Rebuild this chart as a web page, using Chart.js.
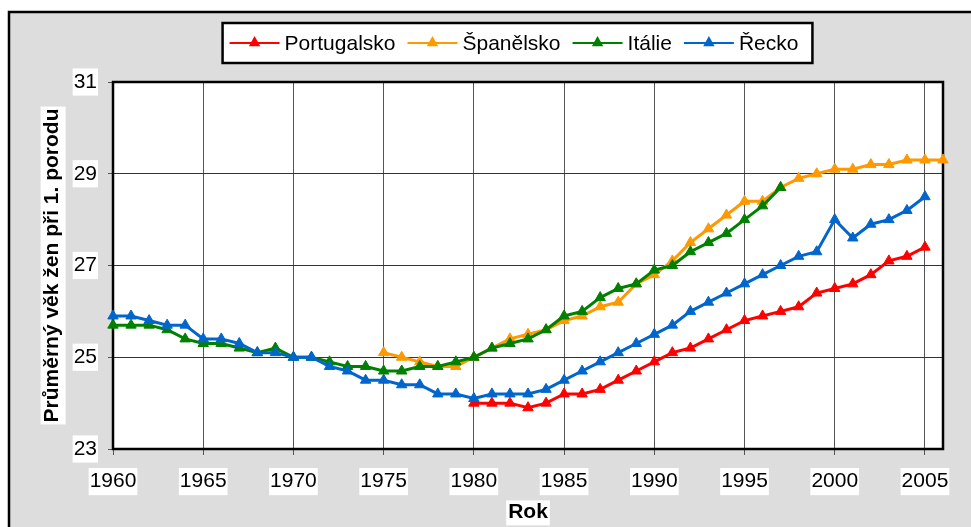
<!DOCTYPE html>
<html><head><meta charset="utf-8">
<script src="https://cdn.jsdelivr.net/npm/chart.js@4.4.1/dist/chart.umd.min.js"></script>
<style>html,body{margin:0;padding:0;background:#fff;overflow:hidden}#wrap{width:971px;height:527px;position:relative}canvas{display:block}</style>
</head><body><div id="wrap"><canvas id="c"></canvas></div>
<script>
// ---- data ----
const years = [];
for (let y = 1960; y <= 2006; y++) years.push(y);
const seriesNames = ['Portugalsko', 'Španělsko', 'Itálie', 'Řecko'];
const xTitle = 'Rok';
const yTitle = 'Průměrný věk žen při 1. porodu';
const portugalsko = [
  null,null,null,null,null,null,null,null,null,null,
  null,null,null,null,null,null,null,null,null,null,
  24.0,24.0,24.0,23.9,24.0,24.2,24.2,24.3,24.5,24.7,
  24.9,25.1,25.2,25.4,25.6,25.8,25.9,26.0,26.1,26.4,
  26.5,26.6,26.8,27.1,27.2,27.4,null];
const spanelsko = [
  null,null,null,null,null,null,null,null,null,null,
  null,null,null,null,null,25.1,25.0,24.9,24.8,24.8,
  25.0,25.2,25.4,25.5,25.6,25.8,25.9,26.1,26.2,26.6,
  26.8,27.1,27.5,27.8,28.1,28.4,28.4,28.7,28.9,29.0,
  29.1,29.1,29.2,29.2,29.3,29.3,29.3];
const italie = [
  25.7,25.7,25.7,25.6,25.4,25.3,25.3,25.2,25.1,25.2,
  25.0,25.0,24.9,24.8,24.8,24.7,24.7,24.8,24.8,24.9,
  25.0,25.2,25.3,25.4,25.6,25.9,26.0,26.3,26.5,26.6,
  26.9,27.0,27.3,27.5,27.7,28.0,28.3,28.7,null,null,
  null,null,null,null,null,null,null];
const recko = [
  25.9,25.9,25.8,25.7,25.7,25.4,25.4,25.3,25.1,25.1,
  25.0,25.0,24.8,24.7,24.5,24.5,24.4,24.4,24.2,24.2,
  24.1,24.2,24.2,24.2,24.3,24.5,24.7,24.9,25.1,25.3,
  25.5,25.7,26.0,26.2,26.4,26.6,26.8,27.0,27.2,27.3,
  28.0,27.6,27.9,28.0,28.2,28.5,null];
const colors = ['#FF0000', '#FF9900', '#008000', '#0066CC'];
const allSeries = [portugalsko, spanelsko, italie, recko];

const FONT = '"Liberation Sans", Arial, sans-serif';
Chart.defaults.font.family = FONT;
Chart.defaults.color = '#000';

const toPoints = arr => years.map((x, i) => ({x, y: arr[i]}));

const bgPlugin = {
  id: 'bg',
  beforeDraw(chart) {
    const ctx = chart.ctx, ca = chart.chartArea;
    ctx.save();
    ctx.fillStyle = '#fff';
    ctx.fillRect(0, 0, chart.width, chart.height);
    ctx.fillStyle = '#DDDDDD';
    ctx.fillRect(9, 12, chart.width, chart.height);
    ctx.strokeStyle = '#000';
    ctx.lineWidth = 2.5;
    ctx.strokeRect(9, 12, chart.width + 10, chart.height + 10);
    ctx.fillStyle = '#fff';
    ctx.fillRect(ca.left, ca.top, ca.right - ca.left, ca.bottom - ca.top);
    // white backdrops behind axis titles
    ctx.font = 'bold 21px ' + FONT;
    const ys = chart.scales.y, xs = chart.scales.x;
    const yw = ctx.measureText(yTitle).width;
    const ycx = ys.left + 12.6 + ys.options.title.padding.top;
    const ycy = (ys.top + ys.bottom) / 2;
    ctx.fillRect(ycx - 12, ycy - yw / 2 - 2, 25, yw + 4);
    const xw = ctx.measureText(xTitle).width;
    const xcy = xs.bottom - 12.6 - xs.options.title.padding.bottom;
    const xcx = (xs.left + xs.right) / 2;
    ctx.fillRect(xcx - xw / 2 - 2, xcy - 12, xw + 4, 25);
    ctx.restore();
  },
  beforeDatasetsDraw(chart) {
    const ctx = chart.ctx, ca = chart.chartArea;
    ctx.save();
    ctx.strokeStyle = '#000';
    ctx.lineWidth = 2.5;
    ctx.strokeRect(ca.left, ca.top, ca.right - ca.left, ca.bottom - ca.top);
    ctx.restore();
  }
};

function drawTri(ctx, x, y, r, color) {
  ctx.beginPath();
  ctx.moveTo(x, y - r);
  ctx.lineTo(x + r * 0.95, y + r * 0.7);
  ctx.lineTo(x - r * 0.95, y + r * 0.7);
  ctx.closePath();
  ctx.fillStyle = color;
  ctx.fill();
}

const legendPlugin = {
  id: 'boxLegend',
  afterDraw(chart) {
    const ctx = chart.ctx;
    ctx.save();
    ctx.font = '21px ' + FONT;
    const lineLen = 50, gapText = 5, gapItem = 12, padL = 7, padR = 14;
    const top = 23, h = 40;
    const labels = chart.data.datasets.map(d => d.label);
    const widths = labels.map(l => ctx.measureText(l).width);
    let total = padL + padR;
    widths.forEach((w, i) => { total += lineLen + gapText + w + (i ? gapItem : 0); });
    const left = 517.5 - total / 2;
    ctx.fillStyle = '#fff';
    ctx.fillRect(left, top, total, h);
    ctx.strokeStyle = '#000';
    ctx.lineWidth = 2.5;
    ctx.strokeRect(left, top, total, h);
    let x = left + padL;
    const cy = top + h / 2;
    ctx.textBaseline = 'middle';
    labels.forEach((l, i) => {
      const c = chart.data.datasets[i].borderColor;
      ctx.strokeStyle = c;
      ctx.lineWidth = 2;
      ctx.beginPath();
      ctx.moveTo(x, cy); ctx.lineTo(x + lineLen, cy); ctx.stroke();
      drawTri(ctx, x + lineLen / 2, cy - 1, 6, c);
      x += lineLen + gapText;
      ctx.fillStyle = '#000';
      ctx.fillText(l, x, cy + 1);
      x += widths[i] + gapItem;
    });
    ctx.restore();
  }
};

new Chart(document.getElementById('c'), {
  type: 'line',
  data: {
    datasets: allSeries.map((arr, i) => ({
      label: seriesNames[i],
      data: toPoints(arr),
      borderColor: colors[i],
      backgroundColor: colors[i],
      pointBackgroundColor: colors[i],
      pointBorderColor: colors[i],
      borderWidth: 3,
      pointStyle: 'triangle',
      pointRadius: 6,
      pointBorderWidth: 1,
      tension: 0,
      clip: false,
      spanGaps: false,
      order: 3 - i
    }))
  },
  options: {
    responsive: true,
    maintainAspectRatio: false,
    animation: false,
    events: [],
    layout: {padding: {left: 0, top: 82, right: 28, bottom: 0}},
    plugins: {legend: {display: false}, tooltip: {enabled: false}},
    scales: {
      x: {
        type: 'linear', min: 1960, max: 2006,
        afterFit: s => { s.height = 78; },
        ticks: {
          stepSize: 5, includeBounds: false, padding: 14,
          font: {size: 21}, color: '#000',
          showLabelBackdrop: true, backdropColor: '#fff', backdropPadding: 1,
          callback: v => String(v), maxRotation: 0, autoSkip: false
        },
        grid: {color: '#555', lineWidth: 1, drawTicks: true, tickLength: 6, tickColor: '#555'},
        border: {display: false},
        title: {display: true, text: xTitle, font: {size: 21, weight: 'bold'}, color: '#000', padding: {top: 0, bottom: 2}}
      },
      y: {
        min: 23, max: 31,
        afterFit: s => { s.width = 113; },
        ticks: {
          stepSize: 2, padding: 11, font: {size: 21}, color: '#000',
          showLabelBackdrop: true, backdropColor: '#fff', backdropPadding: 1
        },
        grid: {color: '#333', lineWidth: 1, drawTicks: true, tickLength: 5, tickColor: '#555'},
        border: {display: false},
        title: {display: true, text: yTitle, font: {size: 21, weight: 'bold'}, color: '#000', padding: {top: 40, bottom: 0}}
      }
    }
  },
  plugins: [bgPlugin, legendPlugin]
});
</script></body></html>
